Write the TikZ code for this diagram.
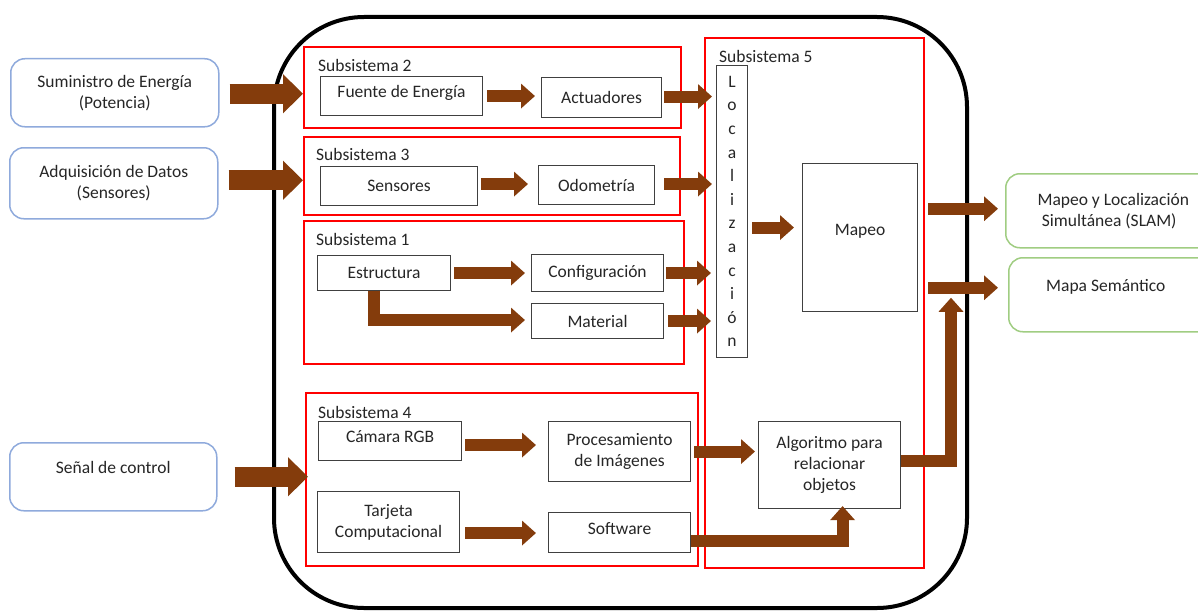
\documentclass[tikz,border=0pt]{standalone}
\usepackage{fontspec}
\setmainfont{Carlito}
\usetikzlibrary{arrows.meta,calc}
\definecolor{brn}{RGB}{132,60,12}
\definecolor{bluebox}{RGB}{143,170,220}
\definecolor{greenbox}{RGB}{160,205,130}
\definecolor{txt}{RGB}{38,38,38}
\begin{document}
\begin{tikzpicture}[x=1pt,y=-1pt,
  every node/.style={font=\fontsize{17.5}{21}\selectfont, text=txt},
  inbox/.style={draw=bluebox, line width=1.5pt, rounded corners=14, align=center, inner sep=0pt, anchor=north west},
  outbox/.style={draw=greenbox, line width=1.5pt, rounded corners=14, align=center, inner sep=0pt, anchor=north west},
  subbox/.style={draw=red, line width=2pt, inner sep=0pt, anchor=north west},
  blk/.style={draw=black!75, line width=1.1pt, align=center, inner sep=0pt, anchor=north west},
  sublabel/.style={anchor=west, inner sep=0pt},
  raised/.style={text depth=#1},
  bigarrow/.style={draw=brn, line width=20pt, -{Triangle[width=38pt,length=20pt]}},
  arr/.style={draw=brn, line width=12pt, -{Triangle[width=24pt,length=14pt]}},
]
\clip (0,0) rectangle (1198,610);
\fill[white] (0,0) rectangle (1198,610);

% outer robot boundary
\node[draw=black, line width=4pt, rounded corners=90, minimum width=693, minimum height=591, anchor=north west, inner sep=0pt] (robot) at (272,15) {};

% left inputs
\node[inbox, minimum width=208, minimum height=68] (sum) at (10,58) {Suministro de Energía\\(Potencia)};
\node[inbox, minimum width=208, minimum height=71] (adq) at (9,147) {Adquisición de Datos\\(Sensores)};
\node[inbox, minimum width=207, minimum height=68, raised=18pt] (senal) at (9,442) {Señal de control};

% right outputs
\node[outbox, minimum width=215, minimum height=74] (slam) at (1005,173) {Mapeo y Localización\\Simultánea (SLAM)\hspace*{8pt}};
\node[outbox, minimum width=212, minimum height=74] (mapa) at (1008,257) {};
\node[anchor=west, inner sep=0pt] (mapatxt) at (1046,287) {Mapa Semántico};

% subsystem frames
\node[subbox, minimum width=377, minimum height=81] (sub2) at (303,46) {};
\node[sublabel] (l2) at (318,65) {Subsistema 2};
\node[subbox, minimum width=376, minimum height=78] (sub3) at (303,136) {};
\node[sublabel] (l3) at (316,154) {Subsistema 3};
\node[subbox, minimum width=380, minimum height=143] (sub1) at (303,220) {};
\node[sublabel] (l1) at (316,239) {Subsistema 1};
\node[subbox, minimum width=392, minimum height=173] (sub4) at (305,392) {};
\node[sublabel] (l4) at (318,412) {Subsistema 4};
\node[subbox, minimum width=219, minimum height=530] (sub5) at (704,37) {};
\node[sublabel] (l5) at (719,56) {Subsistema 5};

% subsystem 2
\node[blk, minimum width=162, minimum height=39, raised=10pt] (fuente) at (320,76) {Fuente de Energía};
\node[blk, minimum width=120, minimum height=40] (act) at (541,77) {Actuadores};
% subsystem 3
\node[blk, minimum width=157, minimum height=39] (sens) at (320,166) {Sensores};
\node[blk, minimum width=116, minimum height=39] (odom) at (538,165) {Odometría};
% subsystem 1
\node[blk, minimum width=133, minimum height=35] (estr) at (317,255) {Estructura};
\node[blk, minimum width=132, minimum height=37] (config) at (531,254) {Configuración};
\node[blk, minimum width=132, minimum height=35] (material) at (531,303) {Material};
% subsystem 4
\node[blk, minimum width=143, minimum height=39, raised=10pt] (cam) at (318,421) {Cámara RGB};
\node[blk, minimum width=142, minimum height=60] (proc) at (548,421) {Procesamiento\\de Imágenes};
\node[blk, minimum width=142, minimum height=61] (tarj) at (317,491) {Tarjeta\\Computacional};
\node[blk, minimum width=142, minimum height=40, raised=8pt] (soft) at (548,512) {Software};
% subsystem 5
\node[blk, minimum width=31, minimum height=292, font=\fontsize{17.5}{23.6}\selectfont] (loc) at (716,65) {L\\o\\c\\a\\l\\i\\z\\a\\c\\i\\ó\\n};
\node[blk, minimum width=115, minimum height=148, raised=16pt] (mapeo) at (802,163) {Mapeo};
\node[blk, minimum width=142, minimum height=87] (alg) at (758,421) {Algoritmo para\\relacionar\\objetos};

% input arrows
\draw[bigarrow] ($(sum.east)+(10,1)$) -- ($(sum.east -| sub2.west)+(0,1)$);
\draw[bigarrow] ($(adq.east)+(10,-3)$) -- ($(adq.east -| sub3.west)+(0,-3)$);
\draw[bigarrow] ($(senal.east)+(17,0)$) -- ($(senal.east -| sub4.west)+(3,0)$);

% internal arrows
\draw[arr] ($(fuente.east)+(4,0)$) -- ($(fuente.east -| act.west)+(-6,0)$);
\draw[arr] ($(act.east)+(2,-1)$) -- ($(act.east -| loc.west)+(-4,-1)$);
\draw[arr] ($(sens.east)+(3,-2)$) -- ($(sens.east -| odom.west)+(-10,-2)$);
\draw[arr] ($(odom.east)+(9,-1)$) -- ($(odom.east -| loc.west)+(-4,-1)$);
\draw[arr] ($(estr.east)+(3,0)$) -- ($(estr.east -| config.west)+(-6,0)$);
\draw[arr] ($(estr.south)+(-10,0)$) |- ($(material.west)+(-6,-1)$);
\draw[arr] ($(config.east)+(2,0)$) -- ($(config.east -| loc.west)+(-5,0)$);
\draw[arr] ($(material.east)+(4,0)$) -- ($(material.east -| loc.west)+(-5,0)$);
\draw[arr] ($(cam.east)+(3,4)$) -- ($(cam.east -| proc.west)+(-12,4)$);
\draw[arr] ($(tarj.east)+(5,11)$) -- ($(tarj.east -| soft.west)+(-12,11)$);
\draw[arr] ($(loc.east |- mapeo.west)+(4,-10)$) -- ($(mapeo.west)+(-8,-10)$);
\draw[arr] ($(proc.east)+(3,0)$) -- ($(proc.east -| alg.west)+(-3,0)$);
\draw[arr] ($(soft.east)+(0,8)$) -| ($(alg.south)+(13,-3)$);
\draw[arr] ($(alg.east)+(0,-4)$) -| ($(mapa.west)+(-57,3)$);
\draw[arr] ($(mapeo.east |- slam.west)+(10,-2)$) -- ($(slam.west)+(-7,-2)$);
\draw[arr] ($(mapeo.east |- mapa.west)+(10,-7)$) -- ($(mapa.west)+(-10,-7)$);
\end{tikzpicture}
\end{document}
